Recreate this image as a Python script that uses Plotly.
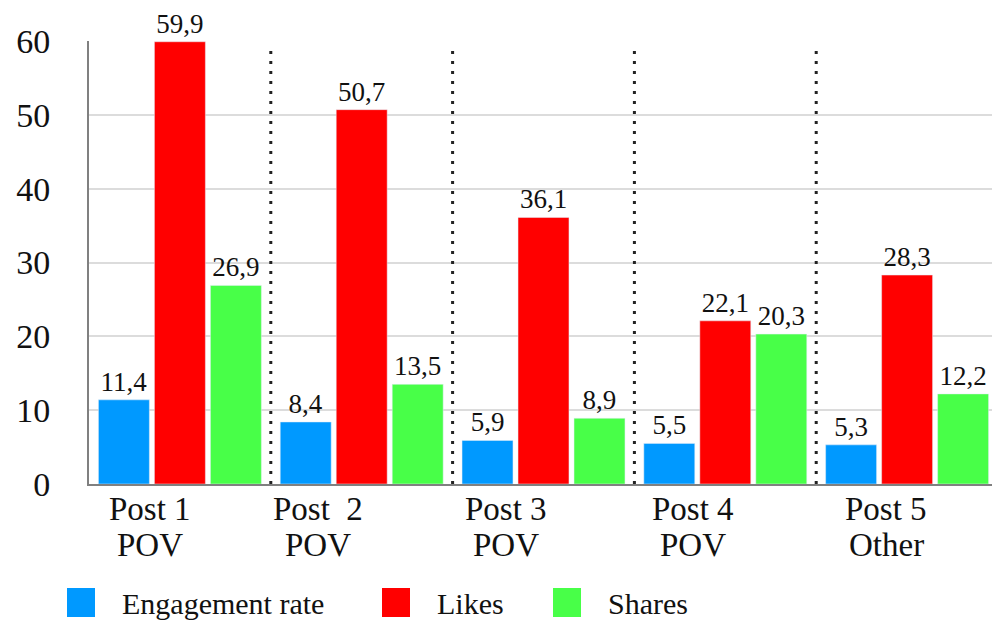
import plotly.graph_objects as go

# Chart data
categories = ["Post 1", "Post 2", "Post 3", "Post 4", "Post 5"]
label_line1 = ["Post 1", "Post  2", "Post 3", "Post 4", "Post 5"]
label_line2 = ["POV", "POV", "POV", "POV", "Other"]
series_names = ["Engagement rate", "Likes", "Shares"]
engagement_rate = [11.4, 8.4, 5.9, 5.5, 5.3]
likes = [59.9, 50.7, 36.1, 22.1, 28.3]
shares = [26.9, 13.5, 8.9, 20.3, 12.2]
y_ticks = [0, 10, 20, 30, 40, 50, 60]

series_values = [engagement_rate, likes, shares]
colors = ["#0099FF", "#FF0000", "#48FF48"]
FONT = "Liberation Serif"

W, H = 992, 620
M_L, M_R, M_T, M_B = 89, 0, 41, 136


def px_x(px):
    return (px - M_L) / (W - M_L - M_R)


def px_y(py):
    return (H - M_B - py) / (H - M_T - M_B)


fig = go.Figure()
for name, vals, col in zip(series_names, series_values, colors):
    fig.add_trace(go.Bar(
        x=list(range(len(categories))),
        y=vals,
        name=name,
        marker_color=col,
        texttemplate="%{y:.1f}",
        textposition="outside",
        textfont=dict(family=FONT, size=27, color="#111111"),
        cliponaxis=False,
        showlegend=False,
    ))

# dotted separators between posts
for i in range(len(categories) - 1):
    fig.add_shape(type="line", xref="x", yref="y",
                  x0=i + 0.5, x1=i + 0.5, y0=0, y1=59,
                  line=dict(color="#222222", width=3, dash="3px,7px"), layer="above")

# two-line category labels under each group
label_shift = [-30, -44, -38, -32, -21]
for i in range(len(categories)):
    fig.add_annotation(x=i, y=px_y(509), xref="x", yref="paper",
                       text=label_line1[i], showarrow=False, xshift=label_shift[i],
                       yanchor="middle", font=dict(family=FONT, size=33, color="#111111"))
    fig.add_annotation(x=i, y=px_y(545), xref="x", yref="paper",
                       text=label_line2[i], showarrow=False, xshift=label_shift[i],
                       yanchor="middle", font=dict(family=FONT, size=33, color="#111111"))

# legend drawn as squares with labels
legend_sq = [67, 382, 553]
legend_tx = [120, 435, 606]
for name, col, sx, tx in zip(series_names, colors, legend_sq, legend_tx):
    fig.add_shape(type="rect", xref="paper", yref="paper",
                  x0=px_x(sx), x1=px_x(sx + 28), y0=px_y(617), y1=px_y(588),
                  fillcolor=col, line=dict(width=0))
    fig.add_annotation(x=px_x(tx), y=px_y(603), xref="paper", yref="paper",
                       text=name, showarrow=False, xanchor="left", yanchor="middle",
                       font=dict(family=FONT, size=30, color="#111111"))

fig.update_layout(
    width=W, height=H,
    margin=dict(l=M_L, r=M_R, t=M_T, b=M_B),
    paper_bgcolor="white", plot_bgcolor="white",
    barmode="group", bargap=0.076, bargroupgap=0.09,
    separators=", ",
    xaxis=dict(range=[-0.5, 4.467], showticklabels=False, showgrid=False,
               showline=True, linecolor="#808080", linewidth=2, zeroline=False,
               ticks=""),
    yaxis=dict(range=[0, 60], tickvals=y_ticks, showgrid=True,
               gridcolor="#DCDCDC", gridwidth=1.5, zeroline=False,
               showline=True, linecolor="#808080", linewidth=2,
               tickfont=dict(family=FONT, size=34, color="#111111"),
               ticklabelstandoff=30),
)

fig.write_html("out.html")
